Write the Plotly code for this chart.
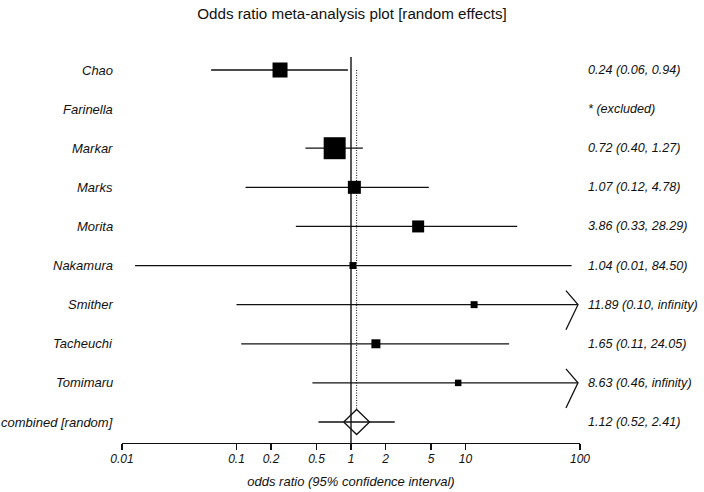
import math
import plotly.graph_objects as go

# ---- data ----
studies = ["Chao", "Farinella", "Markar", "Marks", "Morita", "Nakamura",
           "Smither", "Tacheuchi", "Tomimaru"]
odds_ratio = [0.24, None, 0.72, 1.07, 3.86, 1.04, 11.89, 1.65, 8.63]
ci_lower = [0.06, None, 0.40, 0.12, 0.33, 0.013, 0.10, 0.11, 0.46]
ci_upper = [0.94, None, 1.27, 4.78, 28.29, 84.50, math.inf, 24.05, math.inf]
weights = [18.1, 0.0, 38.9, 13.6, 11.6, 3.9, 3.9, 6.5, 3.4]  # % (box area)
combined_label = "combined [random]"
combined_or = 1.12
combined_lower = 0.52
combined_upper = 2.41
tick_values = [0.01, 0.1, 0.2, 0.5, 1, 2, 5, 10, 100]
tick_labels = ["0.01", "0.1", "0.2", "0.5", "1", "2", "5", "10", "100"]

X_MIN, X_MAX = 0.01, 100
FONT = "Liberation Sans, Arial, sans-serif"
INK = "#111111"

labels = studies + [combined_label]
n = len(labels)

W, H = 704, 492
Y_TOP = -0.767
Y_BOT = n - 1 + 0.537

fig = go.Figure()

# reference line at OR = 1 (no effect)
fig.add_trace(go.Scatter(x=[1, 1], y=[-0.332, Y_BOT], mode="lines",
                         line=dict(color=INK, width=1.4), hoverinfo="skip"))
# dotted line at pooled estimate
fig.add_trace(go.Scatter(x=[combined_or, combined_or], y=[0, n - 1 - 0.32], mode="lines",
                         line=dict(color=INK, width=1, dash="1px,1.5px"), hoverinfo="skip"))

# confidence interval lines (+ arrows for unbounded limits)
cx, cy = [], []
ax, ay = [], []
arm_dx = 10 ** 0.105
for i, (lo, hi) in enumerate(zip(ci_lower, ci_upper)):
    if lo is None:
        continue
    hi_c = min(hi, X_MAX * 0.96)
    cx += [lo, hi_c, None]
    cy += [i, i, None]
    if math.isinf(hi):
        ax += [hi_c / arm_dx, hi_c, hi_c / arm_dx, None]
        ay += [i - 0.36, i, i + 0.64, None]
cx += [combined_lower, combined_upper, None]
cy += [n - 1, n - 1, None]
fig.add_trace(go.Scatter(x=cx, y=cy, mode="lines", line=dict(color=INK, width=1.3),
                         hoverinfo="skip"))
fig.add_trace(go.Scatter(x=ax, y=ay, mode="lines", line=dict(color=INK, width=1.3),
                         hoverinfo="skip"))

# boxes sized by weight
bx, by, bs = [], [], []
for i, (est, w) in enumerate(zip(odds_ratio, weights)):
    if est is None:
        continue
    bx.append(est)
    by.append(i)
    bs.append(math.sqrt(w * 12.43))
fig.add_trace(go.Scatter(x=bx, y=by, mode="markers", opacity=1,
                         marker=dict(symbol="square", size=bs, color="black",
                                     opacity=1, line=dict(width=0)),
                         hoverinfo="skip"))

# pooled diamond
dw = 10 ** 0.113
dh = 0.32
yc = n - 1
fig.add_trace(go.Scatter(
    x=[combined_or / dw, combined_or, combined_or * dw, combined_or, combined_or / dw],
    y=[yc, yc - dh, yc, yc + dh, yc], mode="lines",
    line=dict(color=INK, width=1.3), hoverinfo="skip"))

# text labels
def fmt(v):
    return "infinity" if math.isinf(v) else f"{v:.2f}"

right_texts = []
for est, lo, hi in zip(odds_ratio, ci_lower, ci_upper):
    if est is None:
        right_texts.append("* (excluded)")
    else:
        right_texts.append(f"{fmt(est)} ({fmt(lo)}, {fmt(hi)})")
right_texts.append(f"{fmt(combined_or)} ({fmt(combined_lower)}, {fmt(combined_upper)})")

annotations = []
for i, (lab, rt) in enumerate(zip(labels, right_texts)):
    annotations.append(dict(x=0, xref="paper", y=i, yref="y", text=lab,
                            xanchor="right", yanchor="middle", xshift=-7,
                            showarrow=False,
                            font=dict(family=FONT, size=13, color=INK, style="italic")))
    annotations.append(dict(x=1, xref="paper", y=i, yref="y", text=rt,
                            xanchor="left", yanchor="middle", xshift=6,
                            showarrow=False,
                            font=dict(family=FONT, size=12.6, color=INK, style="italic")))

fig.update_layout(
    width=W, height=H,
    margin=dict(l=122, r=124, t=40, b=49),
    plot_bgcolor="white", paper_bgcolor="white",
    showlegend=False,
    title=dict(text="Odds ratio meta-analysis plot [random effects]",
               x=0.5, xanchor="center", y=1 - 14 / H, yanchor="middle",
               yref="container",
               font=dict(family=FONT, size=15.2, color=INK)),
    annotations=annotations,
    xaxis=dict(type="log", range=[math.log10(X_MIN), math.log10(X_MAX)],
               tickvals=tick_values, ticktext=tick_labels,
               showline=True, linecolor=INK, linewidth=1.3,
               ticks="outside", ticklen=6, tickcolor=INK, tickwidth=1.3,
               ticklabelstandoff=-2, automargin=False,
               showgrid=False, zeroline=False,
               tickfont=dict(family=FONT, size=12, color=INK, style="italic"),
               title=dict(text="odds ratio (95% confidence interval)", standoff=12,
                          font=dict(family=FONT, size=13, color=INK, style="italic"))),
    yaxis=dict(range=[Y_BOT, Y_TOP], visible=False, showgrid=False,
               zeroline=False, automargin=False),
)

# remove the default 8px page margin so the figure fills the window exactly
fig.write_html("out.html",
               config={"displayModeBar": False, "staticPlot": True},
               post_script="document.body.style.margin='0';")
